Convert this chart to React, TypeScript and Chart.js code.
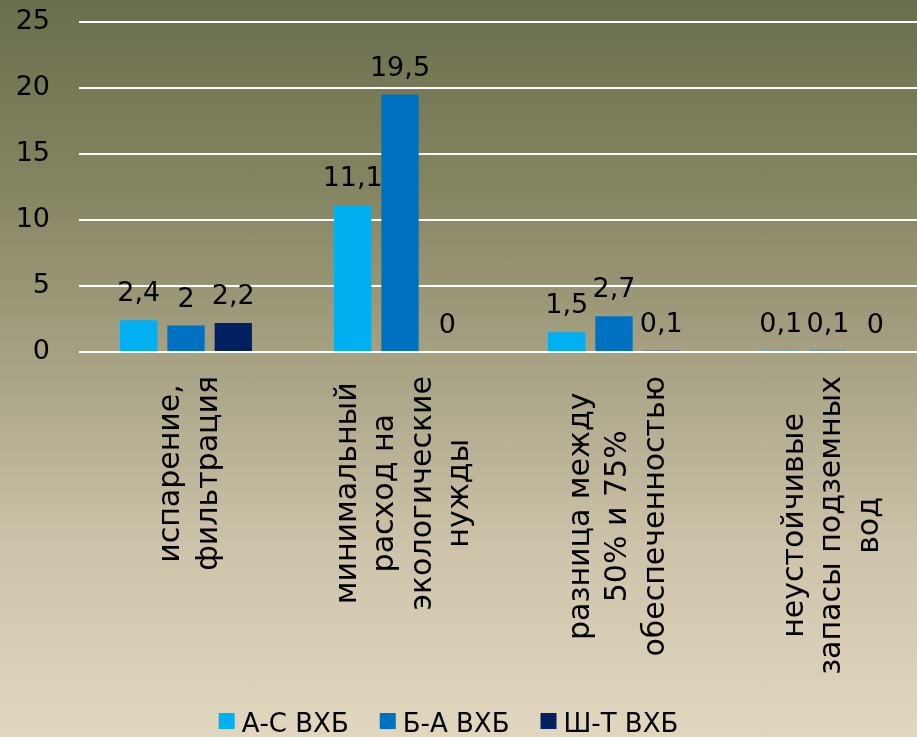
import React, { useEffect, useRef } from "react";
import { Chart, registerables } from "chart.js";

Chart.register(...registerables);

// ---- data ----
const categories: string[][] = [
  ["испарение,", "фильтрация"],
  ["минимальный", "расход на", "экологические", "нужды"],
  ["разница между", "50% и 75%", "обеспеченностью"],
  ["неустойчивые", "запасы подземных", "вод"],
];
const seriesNames = ["А-С ВХБ", "Б-А ВХБ", "Ш-Т ВХБ"];
const asValues = [2.4, 11.1, 1.5, 0.1];
const baValues = [2, 19.5, 2.7, 0.1];
const shtValues = [2.2, 0, 0.1, 0];
const seriesColors = ["#00B0F0", "#0070C0", "#002060"];
const yMin = 0;
const yMax = 25;
const yStep = 5;

const FONT = "'DejaVu Sans', sans-serif";

const fmt = (v: number) => String(v).replace(".", ",");

const customPlugin = {
  id: "customDraw",
  afterDatasetsDraw(chart: any) {
    const ctx = chart.ctx;
    ctx.save();
    ctx.fillStyle = "#000";
    ctx.font = `27px ${FONT}`;
    ctx.textAlign = "center";
    ctx.textBaseline = "alphabetic";
    chart.data.datasets.forEach((ds: any, di: number) => {
      const meta = chart.getDatasetMeta(di);
      meta.data.forEach((el: any, i: number) => {
        ctx.fillText(fmt(ds.data[i]), el.x, el.y - 19);
      });
    });
    ctx.restore();
  },
  afterDraw(chart: any) {
    const ctx = chart.ctx;
    const xScale = chart.scales.x;
    const area = chart.chartArea;
    // category labels, rotated, lines centered
    ctx.save();
    ctx.fillStyle = "#000";
    ctx.font = `30px ${FONT}`;
    ctx.textAlign = "center";
    ctx.textBaseline = "alphabetic";
    const lineGap = 37.5;
    categories.forEach((lines, i) => {
      const cx = xScale.getPixelForValue(i);
      const maxW = Math.max(...lines.map((l) => ctx.measureText(l).width));
      const cy = area.bottom + 24 + maxW / 2;
      const n = lines.length;
      lines.forEach((line, j) => {
        const lx = cx + 4 + (j - (n - 1) / 2) * lineGap;
        ctx.save();
        ctx.translate(lx, cy);
        ctx.rotate(-Math.PI / 2);
        ctx.fillText(line, 0, 8);
        ctx.restore();
      });
    });
    ctx.restore();

    // legend
    ctx.save();
    ctx.font = `26px ${FONT}`;
    ctx.textAlign = "left";
    ctx.textBaseline = "alphabetic";
    const box = 16;
    const gapBoxText = 7;
    const gapItems = 31;
    const widths = seriesNames.map((n) => ctx.measureText(n).width);
    const total =
      widths.reduce((a, b) => a + b, 0) +
      seriesNames.length * (box + gapBoxText) +
      (seriesNames.length - 1) * gapItems;
    let x = 448.5 - total / 2;
    seriesNames.forEach((name, i) => {
      ctx.fillStyle = seriesColors[i];
      ctx.fillRect(x, 713, box, box);
      x += box + gapBoxText;
      ctx.fillStyle = "#000";
      ctx.fillText(name, x, 732);
      x += widths[i] + gapItems;
    });
    ctx.restore();
  },
};

export default function App() {
  const ref = useRef<HTMLCanvasElement>(null);
  useEffect(() => {
    const seriesValues = [asValues, baValues, shtValues];
    const chart = new Chart(ref.current as HTMLCanvasElement, {
      type: "bar",
      data: {
        labels: categories as any,
        datasets: seriesNames.map((name, i) => ({
          label: name,
          data: seriesValues[i],
          backgroundColor: seriesColors[i],
          categoryPercentage: 0.663,
          barPercentage: 0.789,
        })),
      },
      options: {
        responsive: true,
        maintainAspectRatio: false,
        animation: false,
        layout: { padding: { top: 22, left: 0, right: 0, bottom: 0 } },
        plugins: {
          legend: { display: false },
          tooltip: { enabled: false },
        },
        scales: {
          x: {
            grid: { display: false },
            border: { display: false },
            ticks: { display: false },
            afterFit: (s: any) => {
              s.height = 385;
            },
          },
          y: {
            min: yMin,
            max: yMax,
            ticks: {
              stepSize: yStep,
              padding: 29,
              color: "#000",
              font: { family: FONT, size: 27 },
            },
            grid: { color: "#ffffff", lineWidth: 2, drawTicks: false },
            border: { display: false },
            afterFit: (s: any) => {
              s.width = 79;
              s.paddingTop = 0;
              s.paddingBottom = 0;
            },
          },
        },
      } as any,
      plugins: [customPlugin],
    });
    return () => chart.destroy();
  }, []);

  return (
    <div
      style={{
        position: "fixed",
        left: 0,
        top: 0,
        width: 917,
        height: 737,
        overflow: "hidden",
        background:
          "linear-gradient(to bottom, #6A6E4D 0%, #858461 25%, #A8A385 50%, #CEC4AB 75%, #E1D6BE 100%)",
      }}
    >
      <div style={{ position: "relative", width: 935, height: 737 }}>
        <canvas ref={ref} />
      </div>
    </div>
  );
}
